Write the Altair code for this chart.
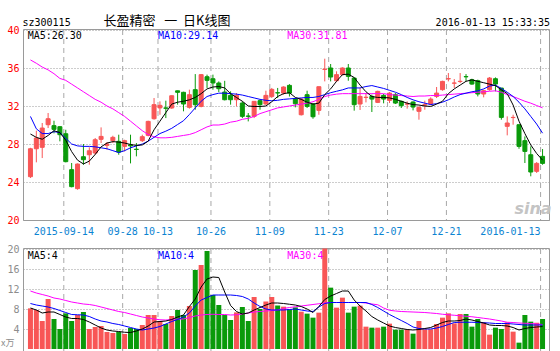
import altair as alt
import pandas as pd

# ---------------- data ----------------
tick_idx = [6, 16, 22, 31, 41, 51, 61, 71, 87]
tick_labels = ["2015-09-14", "09-28", "10-13", "10-26", "11-09", "11-23", "12-07", "12-21", "2016-01-13"]

opens = [24.56, 27.5, 27.65, 30.03, 29.93, 29.82, 29.08, 25.3, 23.3, 26.66,
         26.87, 27.05, 28.49, 27.86, 28.35, 28.28, 27.75, 27.9, 27.45, 28.35,
         28.91, 30.66, 31.8, 31.8, 31.79, 33.6, 33.44, 31.86, 33.72, 31.96,
         35.08, 34.87, 34.42, 33.47, 33.12, 32.66, 32.31, 30.95, 30.91, 32.56,
         32.21, 33.01, 33.4, 33.36, 34.17, 32.73, 31.08, 33.19, 32.21, 31.54,
         35.85, 36.0, 34.66, 35.3, 36.0, 34.94, 32.21, 32.9, 33.01, 32.38,
         33.12, 32.59, 33.19, 32.49, 32.2, 32.42, 31.44, 32.1, 32.21, 33.01,
         33.72, 34.85, 34.4, 34.58, 35.1, 34.77, 34.66, 33.26, 33.72, 34.87,
         33.89, 29.86, 30.78, 30.03, 28.35, 26.87, 25.12, 26.7]
closes = [27.5, 28.63, 29.68, 30.66, 29.54, 28.98, 26.14, 23.51, 25.89, 26.35,
          27.29, 28.45, 28.8, 28.0, 28.7, 27.15, 28.35, 27.8, 27.42, 28.77,
          30.38, 32.14, 32.07, 31.76, 33.08, 33.44, 32.21, 33.19, 32.14, 35.3,
          34.7, 34.42, 33.82, 32.66, 32.66, 33.12, 30.91, 30.91, 32.49, 32.14,
          33.12, 33.75, 33.37, 34.0, 33.36, 32.24, 32.73, 31.96, 30.87, 34.03,
          35.88, 35.05, 35.3, 36.0, 35.12, 32.14, 33.01, 32.92, 32.73, 33.54,
          32.73, 33.36, 32.31, 32.03, 32.22, 31.89, 31.86, 32.14, 32.73, 33.36,
          34.59, 34.88, 34.42, 34.6, 35.07, 34.31, 33.26, 33.61, 34.94, 34.31,
          30.8, 30.21, 30.8, 27.75, 27.22, 25.05, 25.96, 25.96]
highs = [27.6, 29.4, 30.21, 31.26, 30.45, 29.86, 29.5, 26.0, 25.95, 28.0,
         27.65, 28.63, 29.75, 28.21, 28.87, 28.98, 28.45, 28.98, 28.1, 28.98,
         30.45, 32.84, 32.49, 32.56, 33.1, 33.61, 33.5, 33.72, 35.36, 35.36,
         35.3, 35.3, 34.59, 34.65, 33.54, 33.36, 32.49, 31.26, 32.49, 32.66,
         33.61, 33.9, 33.9, 34.07, 34.3, 32.84, 32.84, 33.61, 32.3, 34.03,
         36.98, 36.42, 35.65, 36.07, 36.42, 35.0, 33.9, 33.36, 33.19, 33.61,
         33.26, 33.47, 33.36, 32.56, 32.49, 32.49, 31.96, 32.56, 32.91, 34.0,
         34.66, 35.47, 34.84, 35.47, 35.36, 34.87, 34.77, 33.72, 35.05, 35.01,
         33.89, 30.91, 31.08, 30.03, 28.8, 27.75, 26.1, 27.47]
lows = [24.42, 26.07, 26.52, 29.68, 29.12, 28.28, 26.07, 23.44, 23.19, 25.82,
        25.82, 26.87, 28.1, 27.4, 28.1, 26.87, 27.22, 25.96, 26.7, 28.21,
        28.8, 30.56, 31.08, 30.73, 31.7, 32.14, 31.44, 31.72, 31.61, 31.86,
        33.9, 33.72, 33.47, 32.59, 32.14, 31.96, 30.73, 30.38, 30.73, 31.61,
        32.14, 32.84, 32.84, 33.19, 33.0, 31.86, 31.0, 31.79, 30.66, 31.08,
        34.59, 34.59, 34.52, 35.22, 34.66, 31.51, 31.58, 32.38, 31.37, 32.31,
        32.28, 32.31, 32.21, 31.79, 31.72, 31.54, 30.56, 31.61, 32.07, 32.84,
        33.61, 34.59, 33.9, 34.42, 34.59, 34.24, 33.01, 32.91, 33.61, 33.54,
        30.56, 28.91, 30.03, 27.5, 26.0, 24.6, 24.95, 25.82]
ma5 = [29.05, 28.7, 28.5, 28.9, 29.4, 29.2, 28.4, 27.2, 26.3, 25.9,
       26.2, 26.9, 27.7, 28.1, 28.25, 28.2, 28.1, 27.95, 27.85, 27.9,
       28.3, 29.5, 30.4, 31.3, 32.2, 32.4, 32.5, 32.65, 32.9, 33.3,
       33.8, 34.0, 34.05, 33.9, 33.3, 32.9, 32.5, 32.0, 31.95, 31.95,
       32.0, 32.45, 33.0, 33.3, 33.4, 32.9, 32.7, 32.4, 32.2, 32.3,
       33.2, 33.8, 34.6, 35.3, 35.35, 35.0, 34.2, 33.5, 33.0, 32.9,
       32.9, 32.85, 32.7, 32.5, 32.3, 32.15, 32.1, 32.0, 31.95, 32.2,
       32.5, 33.3, 33.8, 34.2, 34.6, 34.75, 34.6, 34.45, 34.3, 34.15,
       33.7, 33.3, 32.1, 30.4, 29.1, 27.9, 27.0, 26.3]
ma10 = [30.9, 29.6, 29.1, 29.1, 29.3, 29.2, 28.6, 28.0, 27.8, 27.75,
        27.75, 27.7, 27.6, 27.5, 27.3, 27.1, 27.3, 27.6, 27.8, 28.0,
        28.3, 28.7, 29.1, 29.35, 29.65, 30.05, 30.45, 31.1, 31.8, 32.5,
        33.0, 33.2, 33.35, 33.35, 33.3, 33.25, 33.15, 33.0, 32.85, 32.7,
        32.6, 32.55, 32.6, 32.7, 32.75, 32.8, 32.85, 32.9, 32.9, 33.0,
        33.2, 33.4, 33.55, 33.7, 33.9, 33.9, 33.9, 34.05, 34.15, 34.0,
        33.85, 33.65, 33.45, 33.2, 32.9, 32.65, 32.45, 32.3, 32.15, 32.25,
        32.4, 32.65, 32.95, 33.2, 33.35, 33.5, 33.6, 33.8, 34.1, 34.2,
        33.85, 33.45, 33.0, 32.4, 31.7, 30.9, 30.1, 29.14]
ma30 = [36.85, 36.5, 36.1, 35.8, 35.4, 34.9, 34.7, 34.3, 33.9, 33.5,
        33.1, 32.7, 32.4, 32.0, 31.7, 31.3, 30.9, 30.4, 29.9, 29.4,
        29.0, 28.75, 28.65, 28.65, 28.7, 28.8, 28.9, 29.0, 29.2, 29.5,
        29.8, 30.0, 30.0, 30.1, 30.3, 30.4, 30.6, 30.7, 30.9, 31.2,
        31.4, 31.6, 31.8, 31.9, 32.0, 32.1, 32.2, 32.3, 32.45, 32.7,
        33.0, 33.15, 33.25, 33.3, 33.3, 33.3, 33.3, 33.3, 33.3, 33.3,
        33.3, 33.2, 33.15, 33.1, 33.05, 33.0, 33.05, 33.05, 33.1, 33.1,
        33.15, 33.2, 33.25, 33.3, 33.35, 33.4, 33.45, 33.5, 33.55, 33.6,
        33.45, 33.2, 33.0, 32.75, 32.5, 32.3, 32.05, 31.81]
vols = [8.13, 7.8, 5.6, 10.0, 6.0, 4.0, 7.13, 5.6, 6.8, 7.4,
        4.0, 4.4, 4.6, 3.4, 3.2, 3.4, 3.0, 4.2, 4.0, 4.8,
        6.8, 6.8, 5.6, 5.0, 6.6, 7.8, 6.8, 8.6, 15.8, 16.8,
        19.6, 10.8, 8.8, 6.8, 5.8, 7.33, 8.4, 5.6, 10.4, 8.0,
        9.5, 10.4, 8.7, 8.47, 7.93, 8.33, 7.47, 7.07, 6.27, 7.27,
        20.1, 12.27, 8.27, 10.27, 7.27, 8.47, 8.67, 4.47, 4.27, 4.27,
        4.47, 5.07, 3.87, 3.87, 3.9, 3.07, 5.6, 3.93, 3.93, 5.0,
        6.27, 7.13, 5.13, 7.0, 7.0, 4.47, 6.0, 5.33, 2.87, 4.27,
        4.0, 5.33, 3.47, 1.27, 6.8, 5.47, 5.27, 6.0]
vma5 = [8.2, 7.8, 7.2, 7.4, 7.4, 6.9, 6.4, 6.1, 6.1, 5.9,
        5.4, 4.8, 4.2, 3.8, 3.6, 3.5, 3.35, 3.3, 3.6, 4.0,
        4.6, 5.4, 5.5, 5.6, 5.9, 6.4, 6.8, 8.5, 10.0, 12.4,
        14.0, 14.4, 14.3, 11.4, 8.7, 7.5, 7.0, 7.2, 7.8, 8.3,
        8.8, 9.2, 9.2, 9.1, 8.95, 8.8, 8.5, 8.0, 7.3, 8.5,
        9.9, 10.6, 11.1, 11.6, 11.6, 9.8, 8.6, 7.6, 6.5, 5.8,
        5.2, 4.6, 4.3, 4.1, 3.9, 3.8, 3.9, 4.1, 4.3, 4.8,
        5.3, 5.6, 5.6, 5.7, 6.0, 5.8, 5.5, 5.2, 4.8, 4.7,
        4.7, 4.6, 4.3, 3.8, 4.1, 4.3, 4.4, 4.5]
vma10 = [9.1, 8.8, 8.6, 8.4, 8.1, 7.7, 7.3, 6.9, 6.85, 6.8,
         6.5, 6.0, 5.6, 5.4, 5.1, 4.9, 4.6, 4.3, 4.0, 3.8,
         4.0, 4.2, 4.5, 5.0, 5.5, 5.9, 6.4, 7.2, 8.6, 9.8,
         10.3, 10.8, 10.8, 10.8, 10.8, 10.7, 10.5, 10.0, 9.2, 8.5,
         8.0, 7.8, 7.8, 7.8, 7.9, 8.0, 7.8, 7.6, 7.5, 8.4,
         9.1, 9.3, 9.3, 9.3, 9.3, 9.3, 9.3, 9.3, 8.9, 8.3,
         7.6, 6.9, 6.3, 5.7, 5.1, 4.4, 4.1, 4.0, 4.0, 4.2,
         4.5, 4.9, 5.3, 5.35, 5.35, 5.35, 5.3, 5.25, 5.2, 5.1,
         5.1, 5.1, 5.0, 4.9, 4.8, 4.8, 4.8, 4.8]
vma30 = [11.6, 11.2, 10.9, 10.6, 10.2, 10.0, 9.7, 9.4, 9.2, 9.0,
         8.9, 8.7, 8.4, 8.1, 7.8, 7.5, 7.3, 7.0, 6.7, 6.4,
         6.2, 6.0, 5.85, 5.8, 5.9, 6.0, 6.0, 6.3, 6.6, 6.8,
         6.9, 6.95, 6.9, 6.9, 6.8, 6.85, 7.0, 7.2, 7.4, 7.5,
         7.6, 7.7, 7.8, 8.1, 8.3, 8.45, 8.6, 8.75, 8.9, 9.05,
         9.2, 9.3, 9.3, 9.3, 9.3, 9.3, 9.3, 9.2, 9.0, 8.85,
         8.2, 7.75, 7.6, 7.5, 7.45, 7.4, 7.35, 7.3, 7.2, 7.1,
         6.95, 6.85, 6.75, 6.65, 6.55, 6.45, 6.3, 6.15, 6.0, 5.8,
         5.6, 5.35, 5.3, 5.2, 5.15, 5.1, 5.0, 4.9]

code = "sz300115"
name = "长盈精密\u00a0\u00a0\u00a0一\u00a0\u00a0日K线图"
stamp = "2016-01-13 15:33:35"
ma_price_text = ["MA5:26.30", "MA10:29.14", "MA30:31.81"]
ma_vol_text = ["MA5:4", "MA10:4", "MA30:4"]

# ---------------- build ----------------
n = len(opens)
df = pd.DataFrame({
    "i": list(range(n)), "open": opens, "close": closes, "high": highs, "low": lows,
    "ma5": ma5, "ma10": ma10, "ma30": ma30,
    "vol": vols, "vma5": vma5, "vma10": vma10, "vma30": vma30,
})
df["dir"] = ["up" if c >= o else "down" for o, c in zip(opens, closes)]
ticks = pd.DataFrame({"i": tick_idx, "label": tick_labels})

RED, GREEN = "#f85656", "#0a9a0a"
BLUE_TXT = "#0c84d2"
MONO = "DejaVu Sans Mono"
XS = alt.Scale(domain=[-0.4167, 87.4167], nice=False, zero=False)
PS = alt.Scale(domain=[20, 40], range=[190, 0], nice=False, zero=False)
VS = alt.Scale(domain=[0, 20], range=[319, 219], nice=False, zero=False)

p_axis = alt.Axis(values=[20, 24, 28, 32, 36, 40], orient="left", labelColor="#ff0000",
                  labelFont=MONO, labelFontSize=10, labelPadding=4, ticks=False,
                  domain=False, grid=True, gridDash=[1, 2], gridColor="#9a9a9a", title=None)
v_axis = alt.Axis(values=[4, 8, 12, 16, 20], orient="left", labelColor="#8c8c8c",
                  labelFont=MONO, labelFontSize=10, labelPadding=4, ticks=False,
                  domain=False, grid=True, gridDash=[1, 2], gridColor="#9a9a9a", title=None)

dscale = alt.Scale(domain=["up", "down"], range=[RED, GREEN])
color = alt.Color("dir:N", scale=dscale, legend=None)
stroke = alt.Stroke("dir:N", scale=dscale, legend=None)
xe = alt.X("i:Q", scale=XS, axis=None)
base = alt.Chart(df)


def txt(text, x, y, col, size=10, align="left", font=MONO, baseline="alphabetic", **kw):
    return alt.Chart(pd.DataFrame({"t": [text]})).mark_text(
        align=align, baseline=baseline, font=font, fontSize=size, color=col, **kw
    ).encode(x=alt.value(x), y=alt.value(y), text="t:N")


def vgrid(y0, y1):
    return alt.Chart(ticks).transform_calculate(g="datum.i - 1/3").mark_rule(
        color="#a8a8a8", strokeDash=[5, 4], strokeWidth=1
    ).encode(x=alt.X("g:Q", scale=XS, axis=None), y=alt.value(y0), y2=alt.value(y1))


def frame(y0, y1):
    return alt.Chart(pd.DataFrame({"k": [0]})).mark_rect(
        fillOpacity=0, stroke="#9a9a9a", strokeWidth=1
    ).encode(x=alt.value(0.5), x2=alt.value(526.5), y=alt.value(y0), y2=alt.value(y1))


def line(field, col, scale, axis):
    return base.mark_line(color=col, strokeWidth=1).encode(
        x=xe, y=alt.Y(f"{field}:Q", scale=scale, axis=axis))


# price panel
wick = base.mark_rule(strokeWidth=1).encode(
    x=xe, y=alt.Y("low:Q", scale=PS, axis=p_axis), y2="high:Q", color=color)
body = base.mark_bar(width=4, strokeWidth=1).encode(
    x=xe, y=alt.Y("open:Q", scale=PS, axis=p_axis), y2="close:Q", color=color, stroke=stroke)

xlab_c = alt.Chart(ticks).transform_calculate(g="datum.i - 1/3").transform_filter(
    "datum.i < 80").mark_text(align="center", baseline="middle", font=MONO, fontSize=10,
                              color=BLUE_TXT).encode(
    x=alt.X("g:Q", scale=XS, axis=None), y=alt.value(202), text="label:N")
xlab_r = alt.Chart(ticks).transform_calculate(g="datum.i - 1/3").transform_filter(
    "datum.i >= 80").mark_text(align="right", baseline="middle", font=MONO, fontSize=10,
                               color=BLUE_TXT).encode(
    x=alt.X("g:Q", scale=XS, axis=None), y=alt.value(202), text="label:N")

price = alt.layer(
    vgrid(0, 190), frame(-0.5, 190.5),
    wick, body,
    line("ma30", "#ff00ff", PS, p_axis), line("ma10", "#0000ff", PS, p_axis),
    line("ma5", "#000000", PS, p_axis),
    xlab_c, xlab_r,
    txt(code, -0.5, -4.3, "#000000"),
    txt(name, 144, -5, "#000000", size=13, align="center", font="Noto Sans CJK SC"),
    txt(stamp, 527, -4.3, "#000000", align="right"),
    txt(ma_price_text[0], 4.7, 9, "#000000"),
    txt(ma_price_text[1], 135, 9, "#0000ff"),
    txt(ma_price_text[2], 264.3, 9, "#ff00ff"),
    txt("sina", 510, 184, "#c4c4c4", size=16, align="center", font="DejaVu Sans",
        fontStyle="italic", fontWeight="bold"),
)

# volume panel
vbar = base.mark_bar(width=5).encode(
    x=xe, y=alt.Y("vol:Q", scale=VS, axis=v_axis), y2=alt.datum(0), color=color)

volume = alt.layer(
    vgrid(219, 322), frame(218.5, 322),
    vbar,
    line("vma30", "#ff00ff", VS, v_axis), line("vma10", "#0000ff", VS, v_axis),
    line("vma5", "#000000", VS, v_axis),
    txt(ma_vol_text[0], 4.7, 229, "#000000"),
    txt(ma_vol_text[1], 135, 229, "#0000ff"),
    txt(ma_vol_text[2], 264.3, 229, "#ff00ff"),
    txt("x万", -22, 318, "#8c8c8c", size=9, baseline="bottom", font="Noto Sans CJK SC"),
)

chart = alt.layer(price, volume).resolve_scale(y="independent").properties(
    width=527, height=319,
    autosize=alt.AutoSizeParams(type="none"),
    padding={"left": 23, "top": 30, "right": 10, "bottom": 2},
    background="white",
).configure_view(strokeWidth=0)

chart.save("out.html", embed_options={"renderer": "svg", "actions": False})
